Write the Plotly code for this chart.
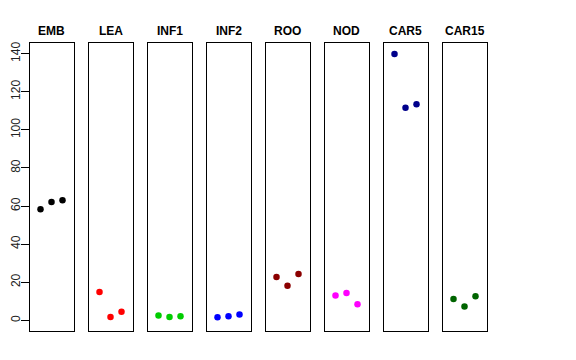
import plotly.graph_objects as go

tissues = ["EMB", "LEA", "INF1", "INF2", "ROO", "NOD", "CAR5", "CAR15"]
replicate = [1, 2, 3]
values = {
    "EMB": [58.3, 62.1, 63.0],
    "LEA": [14.9, 1.7, 4.5],
    "INF1": [2.5, 1.7, 2.1],
    "INF2": [1.6, 2.1, 3.0],
    "ROO": [22.7, 18.2, 24.3],
    "NOD": [13.0, 14.3, 8.4],
    "CAR5": [139.8, 111.6, 113.4],
    "CAR15": [11.2, 7.3, 12.6],
}
colors = ["#000000", "#FF0000", "#00CD00", "#0000FF", "#8B0000", "#FF00FF", "#00008B", "#006400"]
yticks = [0, 20, 40, 60, 80, 100, 120, 140]

W, H = 576, 360
OFF = 8  # page body margin offset
YRANGE = [-5.6, 145.6]
YDOM = [(H - 331 + OFF) / H, (H - 43 + OFF) / H]
fig = go.Figure()
layout = {}
annotations = []
for i, t in enumerate(tissues):
    n = "" if i == 0 else str(i + 1)
    left = 29.5 + 59 * i - OFF
    right = left + 44
    fig.add_trace(go.Scatter(
        x=replicate, y=values[t], mode="markers",
        marker=dict(color=colors[i], size=6.5),
        xaxis="x" + n, yaxis="y" + n, showlegend=False, hoverinfo="y"))
    layout["xaxis" + n] = dict(
        domain=[left / W, right / W], range=[0, 4], showgrid=False, zeroline=False,
        showticklabels=False, ticks="", showline=True, mirror=True, automargin=False,
        linecolor="black", linewidth=1, anchor="y" + n, fixedrange=True)
    ya = dict(
        domain=YDOM, range=YRANGE, showgrid=False,
        zeroline=False, showline=True, mirror=True, linecolor="black", linewidth=1,
        anchor="x" + n, fixedrange=True, automargin=False, showticklabels=False)
    if i == 0:
        ya.update(tickvals=yticks, ticks="outside", ticklen=8, tickcolor="black")
    else:
        ya.update(ticks="")
    layout["yaxis" + n] = ya
    annotations.append(dict(
        text="<b>%s</b>" % t, x=(left + right) / 2 / W, y=(H - 30.5 + OFF) / H,
        xref="paper", yref="paper", showarrow=False, xanchor="center", yanchor="middle",
        font=dict(family="Liberation Sans, Arial, sans-serif", size=12, color="black")))

# separate label-only axis so the rotated tick labels sit like R's
layout["yaxis9"] = dict(
    domain=YDOM, range=YRANGE, overlaying="y", anchor="free", position=(22 - OFF) / W,
    side="left", showline=False, showgrid=False, zeroline=False, ticks="",
    tickvals=yticks, ticktext=[str(v) for v in yticks], tickangle=-90,
    tickfont=dict(family="Liberation Sans, Arial, sans-serif", size=12, color="#222"),
    automargin=False, fixedrange=True)
fig.add_trace(go.Scatter(x=[None], y=[None], xaxis="x", yaxis="y9", showlegend=False,
                         hoverinfo="skip"))

fig.update_layout(
    width=W, height=H, margin=dict(l=0, r=0, t=0, b=0, autoexpand=False),
    paper_bgcolor="white", plot_bgcolor="white",
    annotations=annotations, **layout)
fig.write_html("out.html")
